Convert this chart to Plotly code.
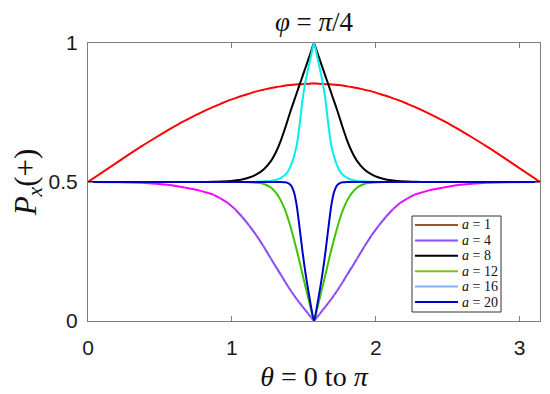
import plotly.graph_objects as go

THETA = [0.0, 0.2208, 0.3708, 0.4708, 0.5708, 0.6708, 0.7708, 0.8708, 0.9208, 0.9708,
         1.0208, 1.0708, 1.1208, 1.1708, 1.2208, 1.2708, 1.3108, 1.3408, 1.3708, 1.3908,
         1.4108, 1.4308, 1.4508, 1.4708, 1.4908, 1.5108, 1.5308, 1.5508, 1.5708,
         1.5908, 1.6108, 1.6308, 1.6508, 1.6708, 1.6908, 1.7108, 1.7308, 1.7508, 1.7708,
         1.8008, 1.8308, 1.8708, 1.9208, 1.9708, 2.0208, 2.0708, 2.1208, 2.1708, 2.2208,
         2.2708, 2.3708, 2.4708, 2.5708, 2.6708, 2.7708, 2.9208, 3.1416]

P_A1 = [0.5, 0.577, 0.628, 0.660, 0.691, 0.720, 0.746, 0.770, 0.781, 0.792,
        0.801, 0.810, 0.818, 0.826, 0.832, 0.838, 0.842, 0.844, 0.847, 0.848,
        0.849, 0.850, 0.851, 0.852, 0.852, 0.853, 0.853, 0.854, 0.854,
        0.854, 0.853, 0.853, 0.852, 0.852, 0.851, 0.850, 0.849, 0.848, 0.847,
        0.844, 0.842, 0.838, 0.832, 0.826, 0.818, 0.810, 0.801, 0.792, 0.781,
        0.770, 0.746, 0.720, 0.691, 0.660, 0.628, 0.577, 0.5]

P_A4 = [0.5, 0.499, 0.497, 0.494, 0.489, 0.480, 0.470, 0.455, 0.441, 0.425,
        0.403, 0.375, 0.343, 0.308, 0.268, 0.225, 0.191, 0.166, 0.140, 0.124,
        0.108, 0.093, 0.079, 0.065, 0.052, 0.039, 0.026, 0.013, 0.0,
        0.013, 0.026, 0.039, 0.052, 0.065, 0.079, 0.093, 0.108, 0.124, 0.140,
        0.166, 0.191, 0.225, 0.268, 0.308, 0.343, 0.375, 0.403, 0.425, 0.441,
        0.455, 0.470, 0.480, 0.489, 0.494, 0.497, 0.499, 0.5]

P_A8 = [0.5, 0.5, 0.5, 0.5, 0.5, 0.5, 0.5, 0.5008, 0.5015, 0.5025,
        0.505, 0.509, 0.516, 0.5275, 0.545, 0.575, 0.6125, 0.650, 0.695, 0.7275,
        0.760, 0.790, 0.820, 0.850, 0.880, 0.910, 0.940, 0.970, 1.0,
        0.970, 0.940, 0.910, 0.880, 0.850, 0.820, 0.790, 0.760, 0.7275, 0.695,
        0.650, 0.6125, 0.575, 0.545, 0.5275, 0.516, 0.509, 0.505, 0.5025, 0.5015,
        0.5008, 0.5, 0.5, 0.5, 0.5, 0.5, 0.5, 0.5]

P_A12 = [0.5, 0.5, 0.5, 0.5, 0.5, 0.5, 0.5, 0.5, 0.5, 0.5,
         0.5, 0.5, 0.499, 0.497, 0.493, 0.480, 0.458, 0.433, 0.398, 0.368,
         0.333, 0.295, 0.255, 0.212, 0.168, 0.125, 0.083, 0.040, 0.0,
         0.040, 0.083, 0.125, 0.168, 0.212, 0.255, 0.295, 0.333, 0.368, 0.398,
         0.433, 0.458, 0.480, 0.493, 0.497, 0.499, 0.5, 0.5, 0.5, 0.5,
         0.5, 0.5, 0.5, 0.5, 0.5, 0.5, 0.5, 0.5]

P_A16 = [0.5, 0.5, 0.5, 0.5, 0.5, 0.5, 0.5, 0.5, 0.5, 0.5,
         0.5, 0.5, 0.5, 0.5005, 0.502, 0.504, 0.508, 0.515, 0.526, 0.539,
         0.560, 0.590, 0.632, 0.705, 0.795, 0.859, 0.909, 0.956, 1.0,
         0.956, 0.909, 0.859, 0.795, 0.705, 0.632, 0.590, 0.560, 0.539, 0.526,
         0.515, 0.508, 0.504, 0.502, 0.5005, 0.5, 0.5, 0.5, 0.5, 0.5,
         0.5, 0.5, 0.5, 0.5, 0.5, 0.5, 0.5, 0.5]

P_A20 = [0.5, 0.5, 0.5, 0.5, 0.5, 0.5, 0.5, 0.5, 0.5, 0.5,
         0.5, 0.5, 0.5, 0.5, 0.5, 0.5, 0.5, 0.5, 0.499, 0.496,
         0.488, 0.465, 0.415, 0.335, 0.250, 0.175, 0.110, 0.050, 0.0,
         0.050, 0.110, 0.175, 0.250, 0.335, 0.415, 0.465, 0.488, 0.496, 0.499,
         0.5, 0.5, 0.5, 0.5, 0.5, 0.5, 0.5, 0.5, 0.5, 0.5,
         0.5, 0.5, 0.5, 0.5, 0.5, 0.5, 0.5, 0.5]

LEGEND_LABELS = ["<i>a</i> = 1", "<i>a</i> = 4", "<i>a</i> = 8",
                 "<i>a</i> = 12", "<i>a</i> = 16", "<i>a</i> = 20"]
X_TICKS = [0, 1, 2, 3]
Y_TICKS = [0, 0.5, 1]
Y_TICK_TEXT = ["0", "0.5", "1"]

LINE_COLORS = ["#ff0000", "#8a4af0", "#000000", "#3ec400", "#00eeee", "#0000cc"]
LEGEND_COLORS = ["#a0502a", "#8f50ff", "#000000", "#7cc020", "#88b0ff", "#0000cc"]

# page body has an 8px default margin: figure is drawn 8px right/down of the window origin
OFF = 8
W, H = 550 - OFF, 394 - OFF
# plot-area edges in window pixels (reference)
L, R, T, B = 88, 540, 43, 321
def px_x(p):
    return (p - L) / (R - L)
def px_y(p):
    return (B - p) / (B - T)

fig = go.Figure()

fig.add_trace(go.Scatter(x=THETA, y=P_A1, mode="lines",
                         line=dict(color=LINE_COLORS[0], width=2, shape="spline", smoothing=0.8),
                         showlegend=False, hoverinfo="skip"))

# a = 4 : magenta near 0.5 fading to purple towards the bottom
def mix(t):
    c0 = (255, 0, 255)
    c1 = (138, 74, 240)
    return "rgb(%d,%d,%d)" % tuple(round(c0[k] + (c1[k] - c0[k]) * t) for k in range(3))

for i in range(len(THETA) - 1):
    ym = 0.5 * (P_A4[i] + P_A4[i + 1])
    t = min(1.0, max(0.0, (0.47 - ym) / 0.11))
    fig.add_trace(go.Scatter(x=THETA[i:i + 2], y=P_A4[i:i + 2], mode="lines",
                             line=dict(color=mix(t), width=2), showlegend=False, hoverinfo="skip"))

for ys, col in [(P_A8, LINE_COLORS[2]), (P_A12, LINE_COLORS[3]),
                (P_A16, LINE_COLORS[4]), (P_A20, LINE_COLORS[5])]:
    fig.add_trace(go.Scatter(x=THETA, y=ys, mode="lines",
                             line=dict(color=col, width=2, shape="spline", smoothing=0.6),
                             showlegend=False, hoverinfo="skip"))

# hand-made legend (MATLAB style, compact rows)
shapes = [dict(type="rect", xref="paper", yref="paper",
               x0=px_x(412), x1=px_x(501), y0=px_y(312), y1=px_y(216),
               line=dict(color="#333333", width=1), fillcolor="white", layer="above")]
annotations = []
row0, dy = 225.0, 15.4
for k, (lab, col) in enumerate(zip(LEGEND_LABELS, LEGEND_COLORS)):
    yy = px_y(row0 + k * dy)
    shapes.append(dict(type="line", xref="paper", yref="paper",
                       x0=px_x(415), x1=px_x(458), y0=yy, y1=yy,
                       line=dict(color=col, width=2), layer="above"))
    annotations.append(dict(xref="paper", yref="paper", x=px_x(460), y=yy, text=lab,
                            showarrow=False, xanchor="left", yanchor="middle",
                            font=dict(family="Liberation Serif", size=14, color="#111")))

axis_common = dict(showline=True, linecolor="#808080", linewidth=1, mirror="ticks",
                   ticks="inside", ticklen=5, tickcolor="#808080", showgrid=False, zeroline=False,
                   automargin=False,
                   tickfont=dict(family="Liberation Sans, Arial", size=21, color="#1a1a1a"))

fig.update_xaxes(range=[0, 3.1416], tickvals=X_TICKS, ticktext=[str(v) for v in X_TICKS],
                 ticklabelstandoff=8,
                 title=dict(text="<i>θ</i> = 0 to <i>π</i>",
                            font=dict(family="Liberation Serif", size=28, color="#111"), standoff=8),
                 **axis_common)
fig.update_yaxes(range=[0, 1], tickvals=Y_TICKS, ticktext=Y_TICK_TEXT,
                 ticklabelstandoff=5,
                 title=dict(text="<i>P</i><sub><i>x</i></sub>(+)",
                            font=dict(family="Liberation Serif", size=31, color="#111"), standoff=4),
                 **axis_common)

fig.update_layout(
    width=W, height=H,
    margin=dict(l=L - OFF, r=550 - R, t=T - OFF, b=394 - B, autoexpand=False),
    paper_bgcolor="white", plot_bgcolor="white",
    showlegend=False,
    title=dict(text="<i>φ</i> = <i>π</i>/4", x=(314 - OFF) / W, xanchor="center",
               y=1 - (22 - OFF) / H, yanchor="middle",
               font=dict(family="Liberation Serif", size=27, color="#111")),
    shapes=shapes,
    annotations=annotations,
)

fig.write_html("out.html")
